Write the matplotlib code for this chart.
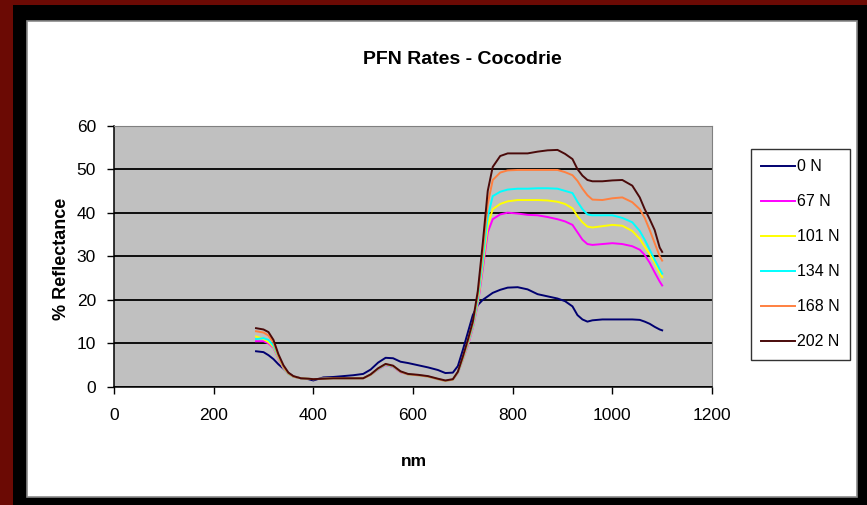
import matplotlib
matplotlib.use("Agg")
import matplotlib.pyplot as plt
from matplotlib.patches import Rectangle

# wavelength (nm) and reflectance (%) for each N rate
wavelength = [285, 300, 310, 320, 330, 340, 350, 360, 375, 390,
              400, 420, 440, 460, 480, 500, 515, 530, 545, 560,
              575, 590, 610, 630, 650, 665, 680, 690, 700, 710,
              720, 730, 740, 750, 760, 775, 790, 810, 830, 850,
              870, 890, 905, 920, 930, 940, 950, 960, 980, 1000,
              1020, 1040, 1055, 1065, 1075, 1085, 1095, 1100]

refl_0 = [8.2, 8.0, 7.3, 6.4, 5.2, 4.2, 3.2, 2.4, 2.0, 1.8,
          1.5, 2.2, 2.3, 2.5, 2.7, 3.0, 4.0, 5.6, 6.7, 6.6,
          5.8, 5.5, 5.0, 4.5, 3.9, 3.2, 3.3, 4.8, 8.5, 12.5,
          16.5, 18.8, 20.0, 20.8, 21.6, 22.3, 22.8, 22.9, 22.4, 21.3,
          20.8, 20.3, 19.7, 18.5, 16.5, 15.5, 15.0, 15.3, 15.5, 15.5,
          15.5, 15.5, 15.4, 15.0, 14.5, 13.8, 13.2, 13.0]

refl_67 = [10.5, 10.5, 10.0, 9.0, 6.4, 4.3, 3.0, 2.4, 2.0, 1.9,
           1.8, 1.9, 2.0, 2.0, 2.0, 2.0, 2.8, 4.0, 5.0, 4.6,
           3.4, 2.9, 2.7, 2.4, 1.8, 1.4, 1.7, 3.2, 6.2, 9.5,
           13.5, 19.0, 27.0, 35.5, 38.5, 39.6, 40.0, 39.8, 39.5, 39.4,
           39.0, 38.5, 38.0, 37.2, 35.5, 33.8, 32.8, 32.6, 32.8, 33.0,
           32.8, 32.3, 31.5, 30.3, 28.5, 26.3, 24.2, 23.3]

refl_101 = [11.6, 11.0, 10.3, 9.2, 6.6, 4.4, 3.0, 2.4, 2.0, 1.9,
            1.8, 1.9, 2.0, 2.0, 2.0, 2.0, 2.8, 4.1, 5.1, 4.7,
            3.5, 2.9, 2.7, 2.4, 1.8, 1.4, 1.7, 3.3, 6.3, 9.8,
            13.8, 19.5, 28.0, 37.0, 40.8, 42.0, 42.6, 42.9, 42.9, 42.9,
            42.8, 42.5, 42.0, 41.0, 39.2, 37.8, 36.8, 36.6, 36.9, 37.2,
            37.0, 35.8, 34.0, 32.2, 30.5, 28.5, 26.2, 25.2]

refl_134 = [11.0, 11.2, 10.8, 9.5, 6.8, 4.5, 3.0, 2.4, 2.0, 1.9,
            1.8, 1.9, 2.0, 2.0, 2.0, 2.0, 2.8, 4.1, 5.1, 4.7,
            3.5, 2.9, 2.7, 2.4, 1.8, 1.4, 1.7, 3.3, 6.4, 10.0,
            14.0, 20.0, 29.0, 39.0, 43.8, 44.8, 45.3, 45.5, 45.5, 45.6,
            45.6, 45.5, 45.0, 44.5, 42.5, 40.8, 39.6, 39.4, 39.4, 39.4,
            38.8, 37.8, 35.8, 33.8, 31.5, 29.2, 27.0, 26.0]

refl_168 = [12.8, 12.5, 11.8, 10.2, 7.0, 4.6, 3.1, 2.4, 2.0, 1.9,
            1.8, 1.9, 2.0, 2.0, 2.0, 2.0, 2.8, 4.2, 5.2, 4.8,
            3.5, 2.9, 2.7, 2.4, 1.8, 1.4, 1.7, 3.4, 6.6, 10.3,
            14.5, 21.0, 31.0, 42.0, 47.5, 49.2, 49.7, 49.8, 49.8, 49.8,
            49.8, 49.8, 49.3, 48.6, 47.3, 45.5, 44.0, 43.0, 42.9, 43.3,
            43.5, 42.4, 40.8, 38.8, 36.0, 33.0, 30.0, 29.0]

refl_202 = [13.5, 13.2, 12.6, 10.8, 7.5, 5.0, 3.3, 2.5, 2.0, 1.9,
            1.8, 1.9, 2.0, 2.0, 2.0, 2.0, 2.9, 4.3, 5.3, 4.9,
            3.6, 3.0, 2.8, 2.5, 1.9, 1.5, 1.8, 3.5, 7.0, 10.8,
            15.0, 22.0, 33.0, 45.0, 50.5, 53.0, 53.6, 53.6, 53.6, 54.0,
            54.3, 54.4, 53.5, 52.3, 50.0, 48.5, 47.5, 47.2, 47.2, 47.4,
            47.5, 46.2, 43.5, 40.8, 38.5, 36.0, 32.0, 31.0]

labels = ["0 N", "67 N", "101 N", "134 N", "168 N", "202 N"]
colors = ["#000070", "#FF00FF", "#FFFF00", "#00FFFF", "#FF8040", "#4A0A0A"]
series = [refl_0, refl_67, refl_101, refl_134, refl_168, refl_202]

x_ticks = [0, 200, 400, 600, 800, 1000, 1200]
y_ticks = [0, 10, 20, 30, 40, 50, 60]

plt.rcParams["font.family"] = ["Liberation Sans", "DejaVu Sans"]

W, H = 867, 505
fig = plt.figure(figsize=(W / 100, H / 100), dpi=100, facecolor="black")


def fx(px):
    return px / W


def fy(py):
    return 1 - py / H


# slide border: red strip top/left, black frame, white chart area
fig.patches.append(Rectangle((0, fy(5)), 1, 5 / H, transform=fig.transFigure,
                             facecolor="#6B0A04", edgecolor="none", zorder=-2))
fig.patches.append(Rectangle((0, 0), 13 / W, 1, transform=fig.transFigure,
                             facecolor="#6B0A04", edgecolor="none", zorder=-2))
fig.patches.append(Rectangle((fx(27), fy(497)), (857 - 27) / W, (497 - 21) / H,
                             transform=fig.transFigure, facecolor="white",
                             edgecolor="#8A8A8A", linewidth=1.2, zorder=-1))

ax = fig.add_axes([fx(114), fy(387), (712 - 114) / W, (387 - 125.5) / H])
ax.set_zorder(3)
ax.set_facecolor("#C0C0C0")

for vals, lab, col in zip(series, labels, colors):
    ax.plot(wavelength, vals, color=col, linewidth=1.4, label=lab)

ax.set_xlim(0, 1200)
ax.set_ylim(0, 60)
ax.set_xticks(x_ticks)
ax.set_yticks(y_ticks)
ax.yaxis.grid(True, color="black", linewidth=1.3)
ax.set_axisbelow(True)
ax.tick_params(direction="out", length=5, width=1, colors="black",
               labelsize=12.5)
ax.tick_params(axis="x", pad=10)
ax.tick_params(axis="y", pad=8)

for side in ["top", "right"]:
    ax.spines[side].set_color("#808080")
for side in ["left", "bottom"]:
    ax.spines[side].set_color("black")
    ax.spines[side].set_linewidth(1.1)

fig.text(fx(462), fy(59), "PFN Rates - Cocodrie", ha="center", va="center",
         fontsize=14, fontweight="bold")
fig.text(fx(62), fy(259), "% Reflectance", ha="center", va="center",
         rotation=90, fontsize=13, fontweight="bold")
fig.text(fx(414), fy(461), "nm", ha="center", va="center",
         fontsize=12.5, fontweight="bold")

leg = ax.legend(loc="upper left", bbox_to_anchor=(fx(751), fy(149)),
                bbox_transform=fig.transFigure, borderaxespad=0,
                frameon=True, fancybox=False, fontsize=11.5,
                handlelength=2.1, handletextpad=0.15, labelspacing=1.25,
                borderpad=0.65)
leg.get_frame().set_edgecolor("black")
leg.get_frame().set_linewidth(1.0)
leg.get_frame().set_facecolor("white")

fig.savefig("out.png", dpi=100, facecolor=fig.get_facecolor())
